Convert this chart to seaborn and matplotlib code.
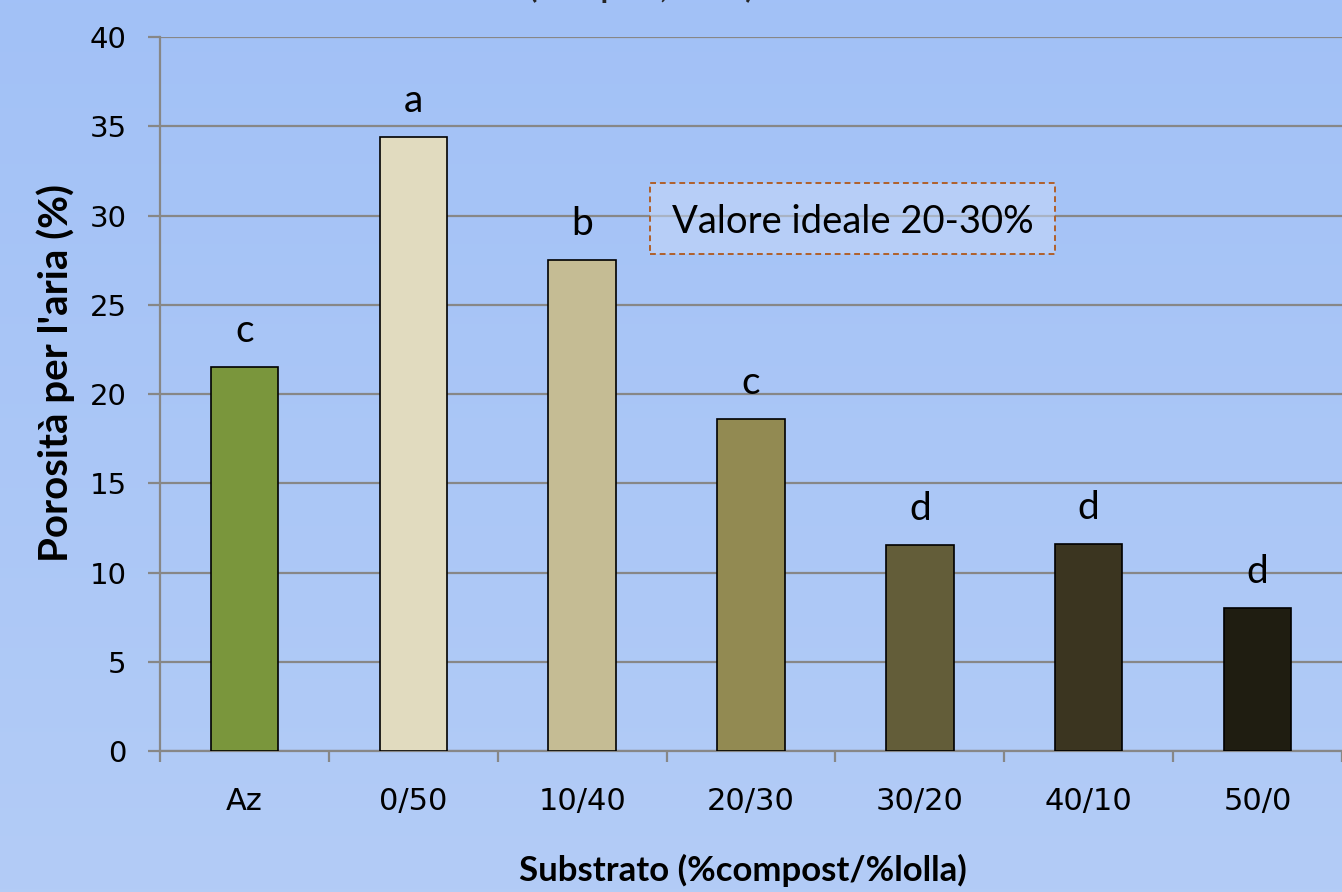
import numpy as np
import pandas as pd
import matplotlib
matplotlib.use("Agg")
import matplotlib.pyplot as plt
from matplotlib.patches import FancyBboxPatch
import seaborn as sns

# Data
substrati = ["Az", "0/50", "10/40", "20/30", "30/20", "40/10", "50/0"]
porosita = [21.5, 34.4, 27.5, 18.6, 11.55, 11.6, 8.0]
lettere = ["c", "a", "b", "c", "d", "d", "d"]
colori = ["#7a963c", "#e1dbbf", "#c5bc94", "#928a52", "#635d39", "#3b3520", "#1f1d11"]
y_ticks = [0, 5, 10, 15, 20, 25, 30, 35, 40]

df = pd.DataFrame({"substrato": substrati, "porosita": porosita})

sns.set_theme(style="white")
plt.rcParams["font.family"] = ["DejaVu Sans"]

W, H, DPI = 1342, 892, 100
fig = plt.figure(figsize=(W / DPI, H / DPI), dpi=DPI)

# Vertical gradient background
bg = fig.add_axes([0, 0, 1, 1], zorder=-10)
grad = np.linspace(0, 1, 256).reshape(-1, 1)
top = np.array([0xa2, 0xc1, 0xf7]) / 255
bot = np.array([0xb3, 0xcc, 0xf6]) / 255
img = top[None, None, :] * (1 - grad[:, :, None]) + bot[None, None, :] * grad[:, :, None]
bg.imshow(img, aspect="auto", extent=[0, 1, 0, 1])
bg.axis("off")

ax = fig.add_axes([160 / W, 1 - 751 / H, (W - 160) / W, (751 - 37) / H])
ax.patch.set_alpha(0)

sns.barplot(data=df, x="substrato", y="porosita", hue="substrato",
            palette=colori, saturation=1, legend=False, width=0.4,
            edgecolor="black", linewidth=1.2, ax=ax, zorder=3)

ax.set_xlim(-0.5, len(substrati) - 0.5)
ax.set_ylim(0, 40)
ax.set_yticks(y_ticks)
ax.yaxis.grid(True, color="#878787", linewidth=1.6, zorder=0)
ax.set_axisbelow(True)

for s in ["top", "right"]:
    ax.spines[s].set_visible(False)
for s in ["left", "bottom"]:
    ax.spines[s].set_color("#878787")
    ax.spines[s].set_linewidth(1.6)

ax.tick_params(axis="y", which="major", length=9, width=1.6, color="#878787",
               pad=15, labelsize=21, labelcolor="black", left=True)
ax.tick_params(axis="x", which="major", length=0, pad=26, labelsize=22,
               labelcolor="black")
ax.set_xticks(np.arange(-0.5, len(substrati) + 0.5, 1), minor=True)
ax.tick_params(axis="x", which="minor", length=8, width=1.6, color="#878787",
               bottom=True)

lab_font = dict(family=["Lato", "DejaVu Sans"], fontweight="bold", color="black")
ax.set_xlabel("Substrato (%compost/%lolla)", fontsize=25, va="center", **lab_font)
ax.set_ylabel("Porosità per l'aria (%)", fontsize=29, va="center", **lab_font)
ax.xaxis.set_label_coords(0.493, -0.167)
ax.yaxis.set_label_coords(-0.088, 0.53)

# Significance letters above the bars
for i, (v, l) in enumerate(zip(porosita, lettere)):
    ax.text(i, v + 1.0, l, ha="center", va="bottom", fontsize=28,
            family=["Lato", "DejaVu Sans"], color="black", zorder=5)

# Reference range box
box = FancyBboxPatch((2.40, 27.85), 2.40, 3.95, boxstyle="square,pad=0",
                     facecolor="#c6d8f8", alpha=0.55, edgecolor="none", zorder=4)
ax.add_patch(box)
box_edge = FancyBboxPatch((2.40, 27.85), 2.40, 3.95, boxstyle="square,pad=0",
                          facecolor="none", edgecolor="#b0602a", linewidth=1.4,
                          linestyle=(0, (3, 2)), zorder=6)
ax.add_patch(box_edge)
ax.text(3.60, 29.65, "Valore ideale 20-30%", ha="center", va="center",
        fontsize=27.5, family=["Lato", "DejaVu Sans"], color="black", zorder=7)

# Second title line (upper part lies above the canvas)
fig.text(641 / W, 1 + 2 / H, "(Compost, 2010)", ha="center", va="baseline",
         fontsize=22, fontweight="bold", family=["Lato", "DejaVu Sans"])

fig.savefig("out.png", dpi=DPI)
